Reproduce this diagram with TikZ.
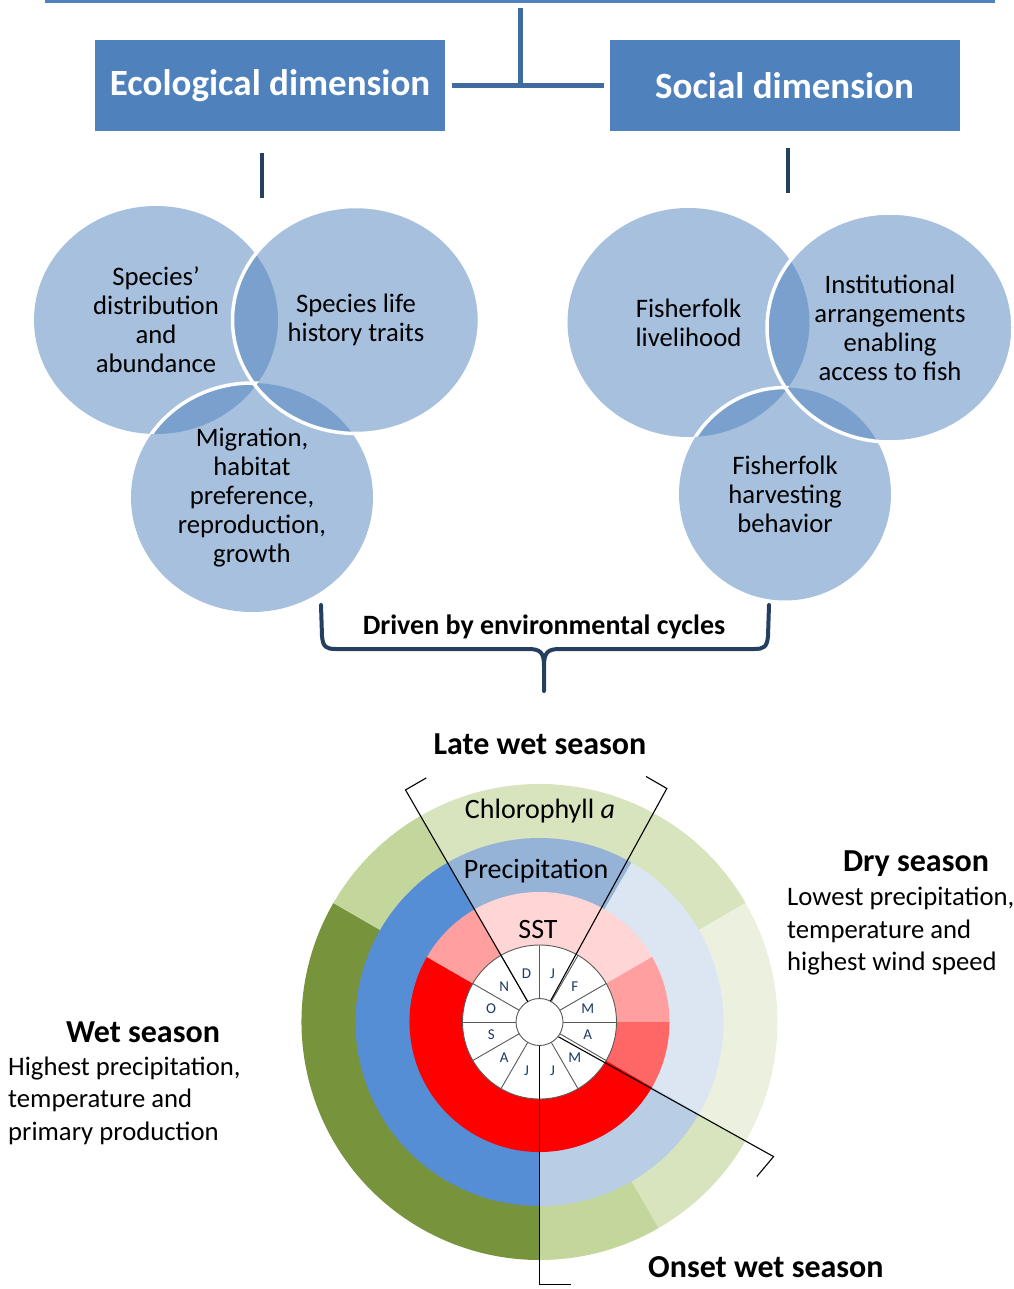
\documentclass[tikz,border=0pt]{standalone}
\usepackage{fontspec}
\setmainfont{Carlito}
\usetikzlibrary{shapes.geometric,calc}

\definecolor{hdrblue}{HTML}{4F81BD}
\definecolor{linkblue}{HTML}{3F6BA1}
\definecolor{navy}{HTML}{243F60}
\definecolor{sstA}{HTML}{FFD5D5}
\definecolor{sstB}{HTML}{FF9F9F}
\definecolor{sstC}{HTML}{FF6666}
\definecolor{sstD}{HTML}{FF0000}
\definecolor{preA}{HTML}{95B3D7}
\definecolor{preB}{HTML}{DCE6F2}
\definecolor{preC}{HTML}{B9CDE5}
\definecolor{preD}{HTML}{558ED5}
\definecolor{chlA}{HTML}{C3D69B}
\definecolor{chlB}{HTML}{D7E4BD}
\definecolor{chlC}{HTML}{EBF1DE}
\definecolor{chlD}{HTML}{77933C}
\definecolor{monthline}{HTML}{595959}
\definecolor{monthtxt}{HTML}{1F3864}

% pie wedge: outer radius, start angle, end angle, colour
\newcommand{\wedgefill}[4]{%
  \fill[#4] (0,0) -- (#2:#1pt) arc[start angle=#2, end angle=#3, radius=#1pt] -- cycle;}

\tikzset{
  dimbox/.style={rectangle, fill=hdrblue, text=white, minimum width=350pt,
    minimum height=91pt, inner sep=0pt, font=\bfseries\fontsize{37}{42}\selectfont},
  venn/.style={ellipse, fill=hdrblue, fill opacity=0.5, text opacity=1,
    inner sep=0pt, align=center, font=\fontsize{26.7}{29}\selectfont},
  vennrim/.style={draw=white, line width=3.5pt},
  stem/.style={navy, line width=4pt},
  link/.style={linkblue, line width=5pt},
  seasonline/.style={black, line width=1.1pt},
  ringlabel/.style={font=\fontsize{28}{32}\selectfont, inner sep=0pt},
  seasontitle/.style={font=\bfseries\fontsize{32}{36}\selectfont, inner sep=0pt},
  seasontext/.style={font=\fontsize{26.7}{32.5}\selectfont, align=left, inner sep=0pt},
  monthlbl/.style={font=\fontsize{15}{17}\selectfont, text=monthtxt, inner sep=0pt}
}

\begin{document}
\begin{tikzpicture}[x=1pt, y=1pt]
\useasboundingbox (0,0) rectangle (1013,-1289);

% ---- header structure ----
\coordinate (topleft) at (45,-1.5);
\coordinate (topright) at (995,-1.5);
\coordinate (topjoin) at (520,-8);
\coordinate (midjoin) at (520,-85);
\draw[hdrblue, line width=3pt] (topleft) -- (topright);

\node[dimbox] (eco) at (270,-85.5) {Ecological dimension};
\node[dimbox] (soc) at (784.5,-85.5) {Social dimension};

\draw[link] (topjoin) -- (midjoin);
\draw[link] ([xshift=7pt]eco.east) -- ([xshift=-5pt]soc.west);

\coordinate (ecoA) at (262,-153);
\coordinate (ecoB) at (262,-198);
\coordinate (socA) at (788,-148);
\coordinate (socB) at (788,-193);
\draw[stem] (ecoA) -- (ecoB);
\draw[stem] (socA) -- (socB);

% ---- ecological Venn ----
\node[venn, minimum width=244pt, minimum height=228pt] (sda) at (156,-320)
  {Species’\\distribution\\and\\abundance};
\node[venn, minimum width=247pt, minimum height=227pt] (slh) at (356,-320)
  {Species life\\history traits};
\node[venn, minimum width=242pt, minimum height=229pt] (mig) at (252,-497.5)
  {Migration,\\habitat\\preference,\\reproduction,\\growth};
\draw[vennrim] (356,-320) ellipse [x radius=123.5, y radius=113.5];
\begin{scope}
  \clip (156,-320) ellipse [x radius=122, y radius=114];
  \draw[vennrim] (252,-497.5) ellipse [x radius=121, y radius=114.5];
\end{scope}

% ---- social Venn ----
\node[venn, minimum width=242pt, minimum height=229pt] (liv) at (688.5,-322.5)
  {Fisherfolk\\livelihood};
\node[venn, minimum width=246pt, minimum height=229pt] (inst) at (890,-327.5)
  {Institutional\\arrangements\\enabling\\access to fish};
\node[venn, minimum width=212pt, minimum height=213pt] (harv) at (785,-494)
  {Fisherfolk\\harvesting\\behavior};
\draw[vennrim] (890,-327.5) ellipse [x radius=123, y radius=114.5];
\begin{scope}
  \clip (688.5,-322.5) ellipse [x radius=121, y radius=114.5];
  \draw[vennrim] (785,-494) ellipse [x radius=106, y radius=106.5];
\end{scope}

% ---- brace ----
\draw[navy, line width=4pt, line join=round, line cap=round]
  (321,-605) -- (322,-636) .. controls (323,-647) and (326,-649) .. (336,-649)
  -- (528,-649) .. controls (540,-649) and (544,-652) .. (544,-666) -- (544,-691);
\draw[navy, line width=4pt, line join=round, line cap=round]
  (769,-605) -- (768,-636) .. controls (767,-647) and (764,-649) .. (754,-649)
  -- (560,-649) .. controls (548,-649) and (544,-652) .. (544,-666);
\node[font=\bfseries\fontsize{28}{32}\selectfont, inner sep=0pt] (driven) at (544,-627)
  {Driven by environmental cycles};

% ---- seasonal rings ----
\begin{scope}[shift={(539.5,-1022)}]
  % chlorophyll a
  \wedgefill{238}{150}{270}{chlD}
  \wedgefill{238}{120}{150}{chlA}
  \wedgefill{238}{30}{120}{chlB}
  \wedgefill{238}{-30}{30}{chlC}
  \wedgefill{238}{-60}{-30}{chlB}
  \wedgefill{238}{-90}{-60}{chlA}
  % precipitation
  \wedgefill{184}{120}{270}{preD}
  \wedgefill{184}{60}{120}{preA}
  \wedgefill{184}{-30}{60}{preB}
  \wedgefill{184}{-90}{-30}{preC}
  % sea surface temperature
  \wedgefill{130}{150}{330}{sstD}
  \wedgefill{130}{120}{150}{sstB}
  \wedgefill{130}{30}{120}{sstA}
  \wedgefill{130}{0}{30}{sstB}
  \wedgefill{130}{-30}{0}{sstC}
  % month ring
  \filldraw[fill=white, draw=monthline, line width=0.9pt] (0,0) circle (77pt);
  \foreach \a in {0,30,...,330}
    \draw[monthline, line width=0.9pt] (\a:23.5pt) -- (\a:77pt);
  \filldraw[fill=white, draw=monthline, line width=0.9pt] (0,0) circle (23.5pt);
  \foreach \m [count=\k from 0] in {J,F,M,A,M,J,J,A,S,O,N,D}
    \node[monthlbl] (mon\k) at ({75-30*\k}:50pt) {\m};

  % season brackets
  \coordinate (lwA) at (120:23.5pt);
  \coordinate (lwB) at (120:268pt);
  \coordinate (lwC) at ($(lwB)+(30:24pt)$);
  \coordinate (lwD) at (62.5:23.5pt);
  \coordinate (lwE) at (61.4:266pt);
  \coordinate (lwF) at ($(lwE)+(150:24pt)$);
  \coordinate (owA) at (-38:24pt);
  \coordinate (owB) at (-29.9:270pt);
  \coordinate (owC) at ($(owB)+(-130:26pt)$);
  \coordinate (owD) at (-90:23.5pt);
  \coordinate (owE) at (0,-262.5);
  \coordinate (owF) at (31,-262.5);
  \draw[seasonline] (lwA) -- (lwB) -- (lwC);
  \draw[seasonline] (lwD) -- (lwE) -- (lwF);
  \draw[seasonline] (owA) -- (owB) -- (owC);
  \draw[seasonline] (owD) -- (owE) -- (owF);
\end{scope}

\node[ringlabel] (chl) at (540,-811) {Chlorophyll \textit{a}};
\node[ringlabel] (pre) at (536,-871) {Precipitation};
\node[ringlabel] (sst) at (538,-929) {SST};

% ---- season captions ----
\node[seasontitle] (late) at (540,-744) {Late wet season};
\node[seasontitle] (dry) at (916,-864) {Dry season};
\node[seasontext, anchor=west] (drytxt) at (787,-931.5)
  {Lowest precipitation,\\temperature and\\highest wind speed};
\node[seasontitle] (wet) at (143,-1032) {Wet season};
\node[seasontext, anchor=west] (wettxt) at (8,-1100.5)
  {Highest precipitation,\\temperature and\\primary production};
\node[seasontitle, anchor=west] (onset) at (648,-1267) {Onset wet season};
\end{tikzpicture}
\end{document}
